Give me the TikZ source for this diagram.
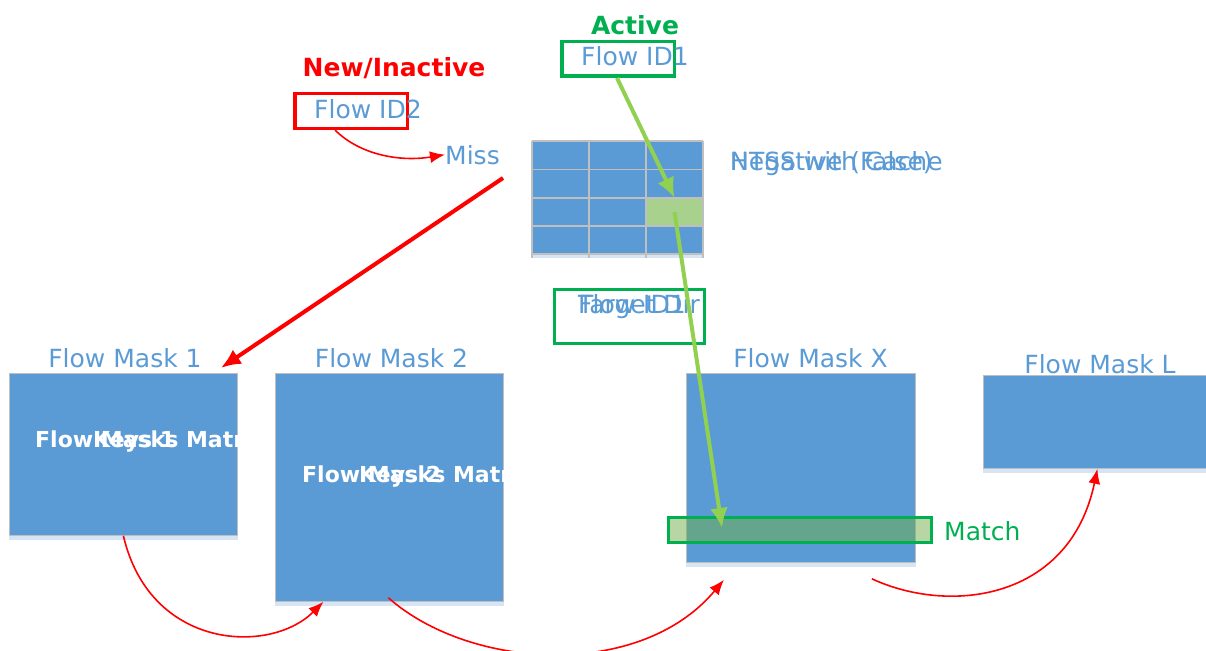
\documentclass[tikz,border=0pt]{standalone}
\usepackage{fontspec}
\setmainfont{DejaVu Sans}
\usetikzlibrary{positioning,arrows.meta}
\usepackage{xcolor}
\definecolor{flowblue}{HTML}{5B9BD5}
\definecolor{activegreen}{HTML}{00B050}
\definecolor{hitgreen}{HTML}{A9D18E}
\definecolor{matchgreen}{HTML}{70AD47}
\definecolor{arrowgreen}{HTML}{92D050}
\definecolor{stripblue}{HTML}{D6E4F4}
\definecolor{gridgray}{HTML}{BFBFBF}
\definecolor{missred}{HTML}{FF0000}

\begin{document}
\begin{tikzpicture}[x=1pt, y=-1pt,
  lbl/.style={font=\fontsize{25}{25}\selectfont, text=flowblue, inner sep=0pt},
  tag/.style={font=\fontsize{25}{25}\selectfont\bfseries, inner sep=0pt},
  keytxt/.style={font=\fontsize{22}{22}\selectfont\bfseries, text=white, inner sep=0pt, anchor=base west},
  idbox/.style={draw, line width=3.5pt, minimum width=112.5pt, minimum height=34.5pt, inner sep=0pt},
  maskbox/.style={fill=flowblue, draw=gridgray, line width=0.8pt, anchor=north west, inner sep=0pt},
  redarrow/.style={draw=missred, line width=1.6pt, -{Latex[length=15pt,width=12pt]}},
  greenarrow/.style={draw=arrowgreen, line width=4pt, -{Latex[length=20pt,width=18pt]}}]
  \useasboundingbox (0,0) rectangle (1206,650);

  % Active flow id (top)
  \node[tag, text=activegreen] (active) at (635,25) {Active};
  \node[idbox, draw=activegreen] (id1box) at (618,59) {};
  \node[lbl, anchor=base west] (id1) at (581,66) {Flow ID1};

  % New / inactive flow id
  \node[tag, text=missred] (newin) at (394,68) {New/Inactive};
  \node[idbox, draw=missred] (id2box) at (351,111) {};
  \node[lbl, anchor=base west] (id2) at (314,118) {Flow ID2};
  \node[lbl, anchor=base west] (miss) at (445,164) {Miss};

  % Cache table
  \node[anchor=north west, minimum width=171pt, minimum height=113pt, inner sep=0pt, fill=flowblue] (tbl) at (532,141) {};
  \node[fill=hitgreen, minimum width=57pt, minimum height=28pt, inner sep=0pt] (hit) at (674.5,212) {};
  \fill[stripblue] (532,254) rectangle (703,258);
  \foreach \x in {532,589,646,703}
    \draw[gridgray, line width=1.2pt] (\x,141) -- (\x,258);
  \foreach \y in {141,169.5,198,226,254}
    \draw[gridgray, line width=1.2pt] (532,\y) -- (703,\y);
  \node[lbl, anchor=base west] (neg) at (730,170) {Negative (False)};
  \node[lbl, anchor=base west] at (730,170) {HTSS with Cache};

  % Target box
  \node[idbox, draw=activegreen, minimum width=150pt, minimum height=54pt] (tgtbox) at (629.5,316.5) {};
  \node[lbl, anchor=base west] (tgt) at (578,313) {Target Dir};
  \node[lbl, anchor=base west] at (578,313) {Flow ID1};

  % Flow masks
  \node[maskbox, minimum width=228pt, minimum height=162pt] (m1) at (9,373) {};
  \node[maskbox, minimum width=228pt, minimum height=228pt] (m2) at (275,373) {};
  \node[maskbox, minimum width=229pt, minimum height=189pt] (mx) at (686,373) {};
  \node[maskbox, minimum width=228pt, minimum height=93pt] (ml) at (983,375) {};
  \foreach \m in {m1,m2,mx,ml}
    \fill[stripblue] (\m.south west) rectangle ([yshift=-4pt]\m.south east);
  \node[lbl, anchor=base] (m1lbl) at (125,367) {Flow Mask 1};
  \node[lbl, anchor=base] (m2lbl) at (391.5,367) {Flow Mask 2};
  \node[lbl, anchor=base] (mxlbl) at (810.5,367) {Flow Mask X};
  \node[lbl, anchor=base] (mllbl) at (1100,373) {Flow Mask L};

  % Keys inside masks (clipped)
  \begin{scope}
    \clip (m1.north west) rectangle (m1.south east);
    \node[keytxt] (k1a) at (35,447) {Flow Masks Matrix};
    \node[keytxt] (k1b) at (93,447) {Keys 1};
  \end{scope}
  \begin{scope}
    \clip (m2.north west) rectangle (m2.south east);
    \node[keytxt] (k2a) at (302,482) {Flow Masks Matrix};
    \node[keytxt] (k2b) at (359,482) {Keys 2};
  \end{scope}

  % Match band
  \node[draw=activegreen, line width=3pt, fill=matchgreen, fill opacity=0.5,
        minimum width=263pt, minimum height=25pt, inner sep=0pt] (match) at (800,529.5) {};
  \node[lbl, text=activegreen, anchor=base west] (matchlbl) at (944,540) {Match};
  \coordinate (hitend) at (722,528);

  % Green lookup arrows
  \draw[greenarrow] ([xshift=-1pt]id1box.south) -- (hit.north);
  \draw[greenarrow] (hit.center) -- (hitend);

  % Red miss path
  \draw[redarrow] ([xshift=-16pt]id2box.south) .. controls (360,155) and (400,162) .. (miss.west);
  \draw[missred, line width=4pt, -{Latex[length=20pt,width=17pt]}] (503,178) -- ([xshift=-17pt,yshift=5pt]m1.north east);
  \draw[redarrow] (m1.south) .. controls (150,650) and (270,655) .. ([xshift=-66pt]m2.south);
  \draw[redarrow] ([xshift=-1pt,yshift=4pt]m2.south) .. controls (470,670) and (640,680) .. ([xshift=-77pt,yshift=-17pt]mx.south);
  \draw[redarrow] ([xshift=71pt,yshift=-16pt]mx.south) .. controls (950,615) and (1070,600) .. (ml.south);
\end{tikzpicture}
\end{document}
